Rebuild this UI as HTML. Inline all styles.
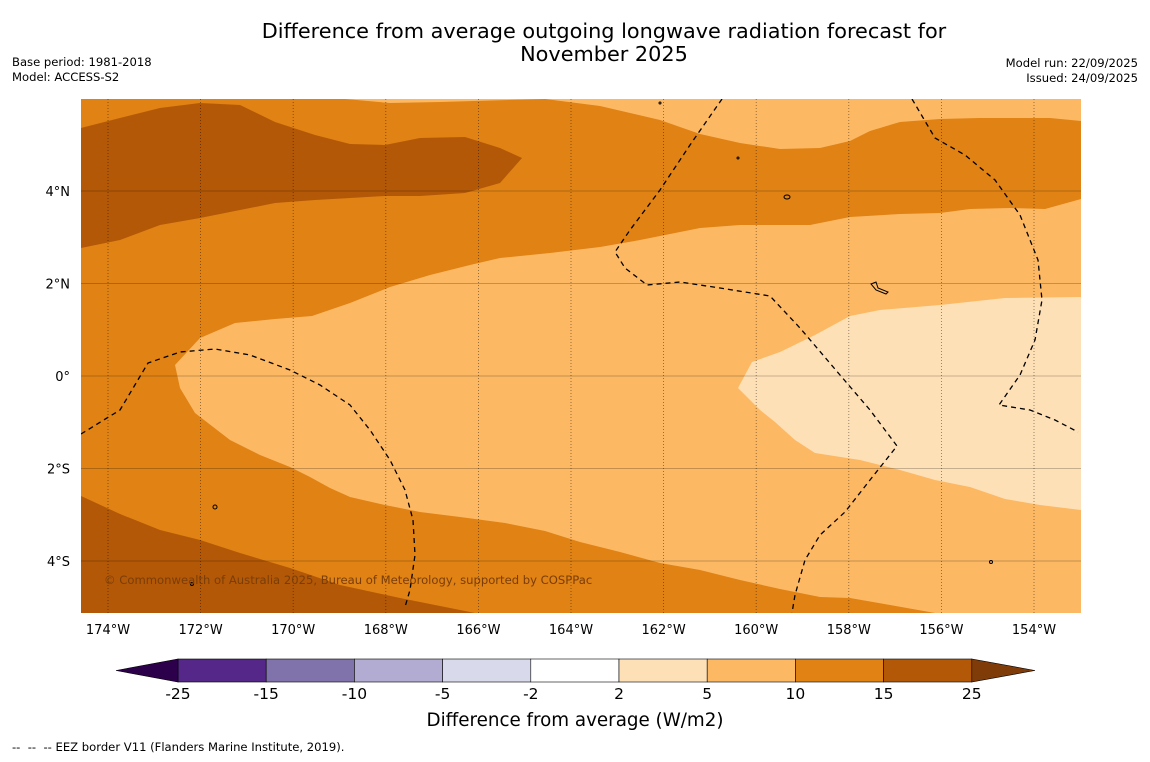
<!DOCTYPE html>
<html><head><meta charset="utf-8"><style>
body{margin:0;background:#fff;width:1150px;height:758px;overflow:hidden;font-family:"DejaVu Sans","Liberation Sans",sans-serif}
svg text{font-family:"DejaVu Sans","Liberation Sans",sans-serif}
</style></head><body>
<svg width="1150" height="758">
<text x="604" y="38" font-size="20.8" text-anchor="middle">Difference from average outgoing longwave radiation forecast for</text>
<text x="604" y="61" font-size="20.8" text-anchor="middle">November 2025</text>
<text x="12" y="66" font-size="11.6">Base period: 1981-2018</text>
<text x="12" y="81" font-size="11.6">Model: ACCESS-S2</text>
<text x="1138" y="67" font-size="11.6" text-anchor="end">Model run: 22/09/2025</text>
<text x="1138" y="82" font-size="11.6" text-anchor="end">Issued: 24/09/2025</text>
<defs><clipPath id="pc"><rect x="81" y="99" width="1000" height="514"/></clipPath></defs>
<g id="map" clip-path="url(#pc)">
<rect x="81" y="99" width="1000" height="514" fill="#e08214"/>
<polygon fill="#b35806" points="81,128 120,118 160,108 200,103 240,105 275,122 315,135 350,144 385,145 420,138 465,137 500,148 522,158 500,183 465,193 420,196 385,196 350,198 315,200 275,203 240,210 200,218 160,225 120,240 81,248"/>
<polygon fill="#b35806" points="81,496 120,514 160,530 200,540 240,553 290,568 340,585 400,598 440,606 475,613 81,613"/>
<polygon fill="#fdb863" points="345,99 545,99 440,102 390,103"/>
<polygon fill="#fdb863" points="545,99 600,106 660,120 700,134 740,143 780,149 820,148 850,141 870,131 900,122 940,119 980,118 1050,118 1081,121 1081,99"/>
<polygon fill="#fdb863" points="175,365 200,338 235,323 275,319 312,316 350,303 390,287 430,275 470,265 500,258 550,253 600,247 640,240 700,228 740,225 810,225 850,217 900,214 940,213 970,209 1010,208 1045,209 1081,199 1081,613 935,613 890,605 850,598 820,597 780,589 740,580 700,570 660,563 620,552 580,542 545,531 505,523 460,517 420,512 385,505 350,497 330,488 310,477 290,467 260,455 230,440 195,413 180,388"/>
<polygon fill="#fee0b6" points="738,388 752,362 780,352 815,335 850,316 880,310 940,305 1005,298 1081,297 1081,510 1040,505 1005,499 970,487 935,480 900,470 860,460 815,453 795,440 775,422 760,410"/>
<g id="grid"></g>
<g fill="none" stroke="#000" stroke-width="1.3" stroke-dasharray="5,4">
<polyline points="81,434 120,410 148,363 180,352 215,349 250,355 290,370 320,385 350,405 370,430 390,460 405,490 413,520 415,555 410,590 405,607"/>
<polyline points="722,99 690,145 660,190 630,230 615,252 625,268 647,285 680,282 720,288 770,296 800,328 840,375 870,410 897,446 870,480 845,512 820,535 805,560 795,595 792,613"/>
<polyline points="912,99 935,138 965,155 995,180 1020,215 1038,260 1042,300 1035,340 1020,375 999,405 1030,410 1055,420 1078,432"/>
</g>
<g fill="none" stroke="#000" stroke-width="1">
<ellipse cx="787" cy="197" rx="3" ry="2"/><path d="M871,284 l5,-2 l2,6 l10,4 l-2,2 l-10,-4 z"/>
<ellipse cx="215" cy="507" rx="2" ry="2"/><circle cx="660" cy="103" r="1"/><circle cx="738" cy="158" r="1"/><circle cx="991" cy="562" r="1.5"/><circle cx="192" cy="584" r="1.5"/>
</g>
<text x="104" y="584" font-size="11.6" fill="#7a3d08">© Commonwealth of Australia 2025, Bureau of Meteorology, supported by COSPPac</text>
</g>
<g id="axes"></g>
<g id="cbar"></g>
<text x="575" y="726" font-size="18.3" text-anchor="middle">Difference from average (W/m2)</text>
<text x="12" y="751" font-size="11.6" xml:space="preserve" style="white-space:pre">--  --  -- EEZ border V11 (Flanders Marine Institute, 2019).</text>
</svg>
<script>
const lonTicks=[-174,-172,-170,-168,-166,-164,-162,-160,-158,-156,-154];
const latTicks=[4,2,0,-2,-4];
const cbLevels=["-25","-15","-10","-5","-2","2","5","10","15","25"];
const cbColors=["#542788","#8073ac","#b2abd2","#d8daeb","#ffffff","#fee0b6","#fdb863","#e08214","#b35806"];
const cbExtend=["#2d004b","#7f3b08"];
const NS="http://www.w3.org/2000/svg";
const X=lon=>108+(lon+174)*46.3;
const Y=lat=>376-lat*46.25;
function mk(t,a,p){const e=document.createElementNS(NS,t);for(const k in a)e.setAttribute(k,a[k]);p.appendChild(e);return e;}
const grid=document.getElementById('grid'),axes=document.getElementById('axes'),cb=document.getElementById('cbar');
lonTicks.forEach(l=>{
 const g=mk('line',{x1:X(l),x2:X(l),y1:99,y2:613,stroke:'#000','stroke-opacity':0.5,'stroke-width':0.8,'stroke-dasharray':'1,2'},grid);
 
 
 const t=mk('text',{x:X(l),y:634,'font-size':13,'text-anchor':'middle'},axes);
 t.textContent=Math.abs(l)+'°W';
 
 
});
latTicks.forEach(l=>{
 const g=mk('line',{x1:81,x2:1081,y1:Y(l),y2:Y(l),stroke:'#000','stroke-opacity':0.3,'stroke-width':0.8},grid);
 
 
 const t=mk('text',{x:70,y:Y(l)+5,'font-size':13,'text-anchor':'end'},axes);
 t.textContent=l===0?'0°':Math.abs(l)+'°'+(l>0?'N':'S');
 
 
});
const cx0=178,cw=88.2,cy=659,ch=23;
cbColors.forEach((c,i)=>{
 const r=mk('rect',{x:cx0+i*cw,y:cy,width:cw,height:ch,fill:c,stroke:'#000','stroke-width':0.6},cb);
 
 
});
const xe=cx0+cbColors.length*cw;
const a1=mk('polygon',{points:`${cx0},${cy} ${cx0},${cy+ch} 116,${cy+ch/2}`,fill:cbExtend[0],stroke:'#000','stroke-width':0.6},cb);


const a2=mk('polygon',{points:`${xe},${cy} ${xe},${cy+ch} 1035,${cy+ch/2}`,fill:cbExtend[1],stroke:'#000','stroke-width':0.6},cb);


cbLevels.forEach((v,i)=>{
 const t=mk('text',{x:cx0+i*cw,y:699,'font-size':15.5,'text-anchor':'middle'},cb);
 t.textContent=v;
 
 
});
</script>
</body></html>
